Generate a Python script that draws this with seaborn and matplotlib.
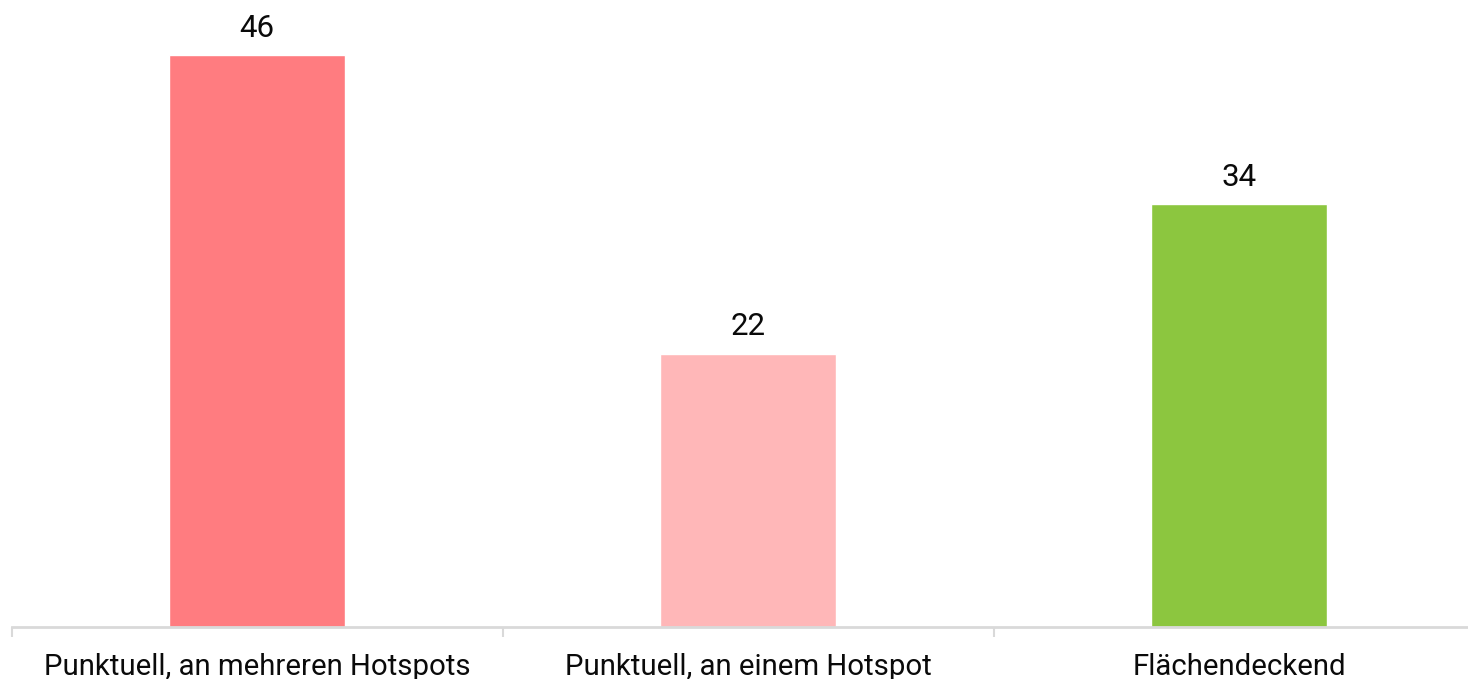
import matplotlib
matplotlib.use("Agg")
import matplotlib.pyplot as plt
import seaborn as sns
import pandas as pd

categories = ["Punktuell, an mehreren Hotspots", "Punktuell, an einem Hotspot", "Flächendeckend"]
values = [46, 22, 34]
colors = ["#FF7C80", "#FFB7B8", "#8CC63F"]

sns.set_theme(style="white")
plt.rcParams['font.family'] = ['Roboto', 'DejaVu Sans']

df = pd.DataFrame({"cat": categories, "val": values})

fig = plt.figure(figsize=(14.68, 6.79), dpi=100)
W, H = 1468, 679
left_px, cat_w = 11.5, 491
ax = fig.add_axes([left_px / W, 52 / H, 3 * cat_w / W, 621.5 / H])

sns.barplot(data=df, x="cat", y="val", hue="cat", palette=colors, legend=False,
            width=0.36, ax=ax, saturation=1)
ax.set_xlim(-0.5, 2.5)
ax.set_ylim(0, 50)
for i, v in enumerate(values):
    ax.annotate(str(v), (i, v), xytext=(0, 27), textcoords="offset pixels",
                ha="center", va="center", fontsize=22.5, color="#0a0a0a")

for s in ["top", "right", "left"]:
    ax.spines[s].set_visible(False)
ax.spines["bottom"].set_color("#D9D9D9")
ax.spines["bottom"].set_linewidth(2)
ax.set_yticks([])
ax.set_xticks([-0.5, 0.5, 1.5, 2.5], minor=True)
ax.set_xticks([0, 1, 2])
ax.set_xticklabels(categories, fontsize=21.2, color="#0a0a0a")
ax.tick_params(axis="x", which="major", length=0, pad=19)
ax.tick_params(axis="x", which="minor", length=7, width=1.5, color="#D9D9D9", direction="out", bottom=True)
ax.set_xlabel("")
ax.set_ylabel("")

fig.savefig("out.png", dpi=100)
